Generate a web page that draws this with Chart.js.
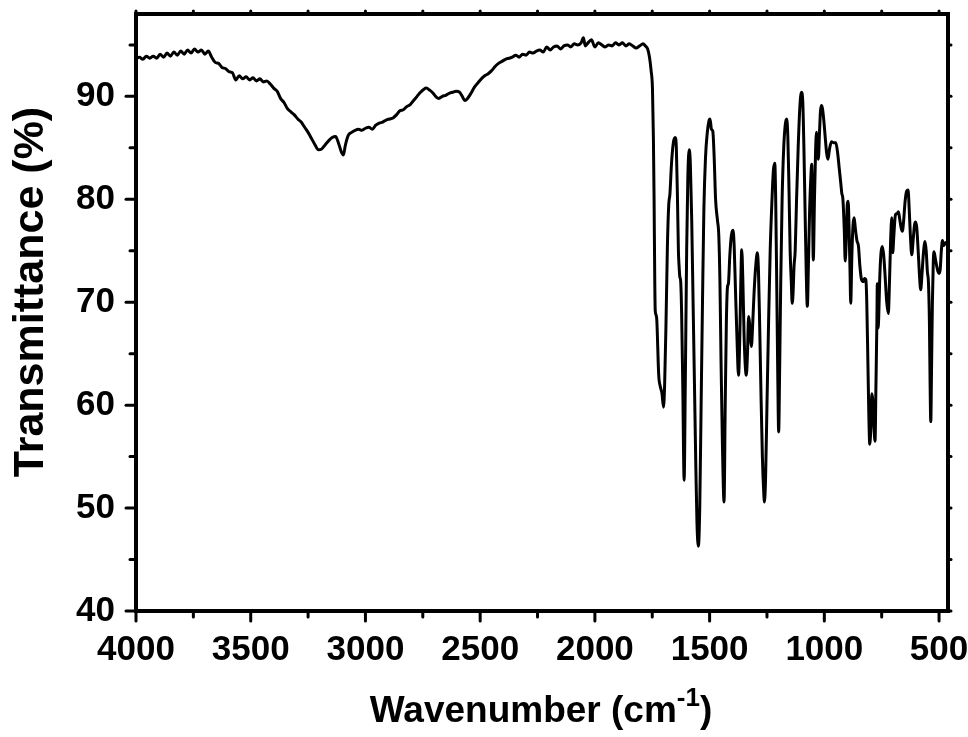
<!DOCTYPE html>
<html>
<head>
<meta charset="utf-8">
<script src="https://cdn.jsdelivr.net/npm/chart.js@4.4.1/dist/chart.umd.min.js"></script>
<style>
  html, body { margin: 0; padding: 0; background: #fff; }
  #wrap { width: 968px; height: 737px; }
</style>
</head>
<body>
<div id="wrap"><canvas id="irChart" width="968" height="737"></canvas></div>
<script>
// FTIR spectrum
const wavenumbers = [
  4000, 3985, 3970, 3955, 3940, 3925, 3910, 3895, 3880, 3865,
  3850, 3835, 3820, 3805, 3790, 3775, 3760, 3745, 3730, 3715,
  3700, 3685, 3670, 3655, 3640, 3625, 3610, 3595, 3580, 3565,
  3550, 3535, 3520, 3505, 3490, 3475, 3460, 3445, 3430, 3415,
  3400, 3385, 3370, 3355, 3340, 3325, 3310, 3295, 3280, 3265,
  3250, 3235, 3220, 3205, 3190, 3175, 3160, 3145, 3130, 3118,
  3105, 3096, 3088, 3075, 3060, 3045, 3030, 3015, 3000, 2985,
  2970, 2955, 2940, 2925, 2910, 2895, 2880, 2865, 2850, 2835,
  2820, 2805, 2790, 2775, 2760, 2745, 2735, 2720, 2705, 2690,
  2680, 2665, 2650, 2635, 2620, 2605, 2590, 2578, 2567, 2555,
  2540, 2525, 2510, 2495, 2480, 2465, 2450, 2435, 2420, 2405,
  2390, 2375, 2360, 2345, 2330, 2315, 2300, 2285, 2270, 2255,
  2240, 2225, 2210, 2195, 2180, 2165, 2150, 2135, 2120, 2105,
  2090, 2075, 2060, 2050, 2042, 2030, 2015, 2000, 1985, 1970,
  1955, 1940, 1925, 1910, 1895, 1880, 1865, 1850, 1835, 1820,
  1805, 1790, 1780, 1770, 1762, 1755, 1749, 1745, 1742, 1739,
  1737, 1734, 1730, 1722, 1715, 1708, 1701, 1696, 1690, 1684,
  1678, 1673, 1666, 1658, 1650, 1645, 1640, 1636, 1633, 1630,
  1626, 1622, 1617, 1611, 1606, 1600, 1595, 1589, 1584, 1578,
  1572, 1566, 1560, 1555, 1549, 1543, 1537, 1531, 1525, 1518,
  1510, 1503, 1498, 1492, 1486, 1480, 1474, 1466, 1460, 1455,
  1450, 1444, 1437, 1432, 1427, 1422, 1418, 1412, 1405, 1398,
  1393, 1387, 1380, 1374, 1369, 1364, 1360, 1355, 1350, 1345,
  1340, 1335, 1330, 1326, 1322, 1318, 1312, 1306, 1299, 1292,
  1287, 1282, 1276, 1270, 1264, 1261, 1256, 1250, 1243, 1236,
  1228, 1222, 1216, 1212, 1207, 1203, 1199, 1195, 1190, 1184,
  1177, 1170, 1164, 1159, 1154, 1149, 1144, 1140, 1136, 1132,
  1127, 1121, 1114, 1107, 1100, 1094, 1089, 1084, 1079, 1074,
  1069, 1064, 1058, 1055, 1052, 1048, 1043, 1038, 1034, 1030,
  1026, 1021, 1017, 1013, 1008, 1002, 996, 990, 984, 978,
  969, 960, 950, 942, 935, 928, 924, 919, 913, 909,
  904, 900, 896, 892, 888, 885, 880, 875, 870, 865,
  858, 851, 845, 838, 830, 825, 819, 815, 810, 806,
  802, 797, 793, 789, 784, 779, 775, 771, 769, 766,
  763, 759, 753, 747, 741, 735, 728, 721, 716, 711,
  706, 702, 697, 690, 683, 677, 671, 665, 660, 654,
  648, 641, 635, 630, 625, 619, 613, 607, 602, 597,
  591, 585, 580, 575, 568, 561, 556, 551, 546, 542,
  539, 536, 533, 529, 525, 522, 516, 510, 505, 500,
  495, 490, 485, 480, 470, 461
];
const transmittance = [
  93.7, 93.8, 93.6, 93.9, 93.7, 93.9, 93.7, 94.1, 93.8, 94.2,
  93.9, 94.3, 94.0, 94.4, 94.1, 94.5, 94.2, 94.6, 94.3, 94.5,
  94.1, 94.4, 93.8, 93.3, 93.2, 92.8, 92.7, 92.4, 92.3, 91.6,
  92.0, 91.7, 91.9, 91.6, 91.8, 91.5, 91.7, 91.4, 91.5, 91.2,
  90.8, 90.5, 89.8, 89.4, 88.8, 88.5, 88.2, 87.8, 87.5, 87.0,
  86.5, 85.9, 85.3, 84.8, 84.9, 85.3, 85.7, 86.0, 86.1, 85.5,
  84.6, 84.3, 85.2, 86.2, 86.5, 86.7, 86.8, 86.7, 86.9, 87.0,
  86.8, 87.2, 87.4, 87.5, 87.7, 87.8, 87.9, 88.2, 88.6, 88.7,
  89.0, 89.2, 89.6, 90.0, 90.4, 90.7, 90.8, 90.6, 90.3, 89.9,
  89.8, 90.0, 90.1, 90.3, 90.4, 90.5, 90.4, 90.0, 89.6, 89.8,
  90.3, 90.9, 91.3, 91.7, 92.0, 92.2, 92.5, 92.9, 93.2, 93.4,
  93.6, 93.7, 93.8, 94.0, 93.8, 94.1, 94.0, 94.3, 94.2, 94.4,
  94.5, 94.3, 94.8, 94.5, 94.8, 94.9, 94.6, 94.9, 95.0, 94.8,
  95.1, 95.0, 95.2, 95.7, 94.9, 95.2, 95.5, 94.8, 95.2, 95.0,
  94.8, 95.0, 94.9, 95.2, 95.0, 95.2, 94.9, 95.1, 94.9, 94.7,
  94.9, 95.1, 94.9, 94.6, 93.8, 92.5, 90.7, 86.0, 80.0, 72.0,
  69.2, 68.8, 68.2, 63.0, 61.8, 61.2, 59.8, 62.0, 68.0, 75.4,
  79.5, 80.5, 83.5, 85.5, 86.0, 85.0, 80.0, 75.0, 73.5, 72.5,
  72.0, 69.0, 62.0, 52.7, 62.0, 75.0, 82.0, 84.8, 83.5, 78.0,
  70.0, 62.0, 54.0, 48.5, 46.3, 50.0, 60.0, 70.0, 79.0, 84.0,
  86.5, 87.6, 87.8, 86.8, 86.6, 84.0, 80.0, 78.0, 76.5, 72.0,
  64.0, 56.0, 50.6, 60.0, 68.0, 71.5, 71.8, 74.5, 76.5, 77.0,
  75.5, 71.0, 66.0, 62.9, 66.0, 72.0, 75.1, 72.0, 67.0, 64.0,
  62.9, 65.0, 68.6, 68.0, 66.5, 65.7, 68.0, 71.0, 73.5, 74.8,
  73.0, 68.0, 61.0, 55.0, 51.5, 50.6, 53.0, 60.0, 68.0, 75.0,
  80.0, 82.8, 83.5, 80.0, 71.0, 63.0, 57.4, 63.0, 72.0, 80.0,
  85.0, 87.3, 87.8, 86.0, 81.0, 75.0, 72.0, 69.9, 71.0, 73.5,
  75.0, 80.0, 85.0, 88.8, 90.4, 89.5, 85.0, 79.0, 73.0, 69.6,
  74.0, 79.0, 82.5, 83.4, 80.0, 74.1, 80.0, 84.8, 86.5, 85.5,
  83.9, 86.5, 88.5, 89.1, 88.8, 87.6, 86.0, 84.5, 83.9, 84.8,
  85.6, 85.5, 85.5, 84.5, 83.0, 81.5, 80.6, 80.0, 77.0, 74.0,
  76.5, 79.5, 79.8, 77.0, 73.0, 69.9, 74.5, 77.5, 78.2, 77.2,
  76.0, 75.4, 73.5, 72.2, 72.0, 72.3, 72.2, 70.0, 64.0, 59.0,
  56.2, 58.0, 61.1, 60.5, 58.0, 56.5, 62.0, 68.0, 71.8, 67.5,
  68.5, 72.0, 74.8, 75.4, 74.5, 72.5, 70.0, 68.9, 72.0, 76.0,
  78.2, 74.8, 76.5, 78.5, 78.6, 78.8, 78.0, 77.2, 76.9, 78.0,
  79.8, 80.8, 80.9, 79.0, 76.5, 74.6, 76.0, 77.5, 77.8, 77.2,
  75.0, 72.5, 71.2, 72.5, 74.8, 75.9, 75.0, 73.0, 71.8, 68.0,
  62.0, 58.4, 63.0, 70.0, 74.0, 74.9, 74.2, 73.5, 73.0, 72.8,
  73.2, 75.0, 76.0, 75.5, 75.8, 75.7
];

const xTickValues = [4000, 3500, 3000, 2500, 2000, 1500, 1000, 500];
const xMinorValues = [3750, 3250, 2750, 2250, 1750, 1250, 750];
const yTickValues = [40, 50, 60, 70, 80, 90];
const yMinorValues = [45, 55, 65, 75, 85, 95];

const xTitleMain = 'Wavenumber (cm';
const xTitleSup = '-1';
const xTitleEnd = ')';
const yTitle = 'Transmittance (%)';

const FONT = 'Arial, "Liberation Sans", sans-serif';

// frame, tick marks and axis titles drawn on top of the chart
const frameAndTicks = {
  id: 'frameAndTicks',
  afterDraw(chart) {
    const ctx = chart.ctx;
    const area = chart.chartArea;
    const xs = chart.scales.x;
    const ys = chart.scales.y;

    ctx.save();
    ctx.strokeStyle = '#000';
    ctx.lineWidth = 4;
    ctx.lineCap = 'butt';
    ctx.strokeRect(area.left, area.top, area.right - area.left, area.bottom - area.top);

    ctx.lineWidth = 3;
    ctx.lineCap = 'round';
    const tick = (x1, y1, x2, y2) => {
      ctx.beginPath();
      ctx.moveTo(x1, y1);
      ctx.lineTo(x2, y2);
      ctx.stroke();
    };
    xTickValues.forEach(v => {
      const px = xs.getPixelForValue(v);
      tick(px, area.bottom, px, area.bottom + 10);
      tick(px, area.top, px, area.top - 3);
    });
    xMinorValues.forEach(v => {
      const px = xs.getPixelForValue(v);
      tick(px, area.bottom, px, area.bottom + 6);
      tick(px, area.top, px, area.top - 3);
    });
    yTickValues.forEach(v => {
      const py = ys.getPixelForValue(v);
      tick(area.left, py, area.left - 10, py);
      tick(area.right, py, area.right + 3, py);
    });
    yMinorValues.forEach(v => {
      const py = ys.getPixelForValue(v);
      tick(area.left, py, area.left - 6, py);
      tick(area.right, py, area.right + 3, py);
    });

    // y title
    ctx.fillStyle = '#000';
    ctx.save();
    ctx.translate(31, 292);
    ctx.rotate(-Math.PI / 2);
    ctx.textAlign = 'center';
    ctx.textBaseline = 'middle';
    ctx.font = 'bold 43px ' + FONT;
    ctx.fillText(yTitle, 0, 0);
    ctx.restore();

    // x title with superscript
    const mainFont = 'bold 37px ' + FONT;
    const supFont = 'bold 26px ' + FONT;
    ctx.textBaseline = 'alphabetic';
    ctx.textAlign = 'left';
    ctx.font = mainFont;
    const wMain = ctx.measureText(xTitleMain).width;
    const wEnd = ctx.measureText(xTitleEnd).width;
    ctx.font = supFont;
    const wSup = ctx.measureText(xTitleSup).width;
    const x0 = 541 - (wMain + wSup + wEnd) / 2;
    const base = 722;
    ctx.font = mainFont;
    ctx.fillText(xTitleMain, x0, base);
    ctx.font = supFont;
    ctx.fillText(xTitleSup, x0 + wMain, base - 16);
    ctx.font = mainFont;
    ctx.fillText(xTitleEnd, x0 + wMain + wSup, base);
    ctx.restore();
  }
};

const points = wavenumbers.map((w, i) => ({ x: w, y: transmittance[i] }));

new Chart(document.getElementById('irChart'), {
  type: 'line',
  data: {
    datasets: [{
      data: points,
      borderColor: '#000',
      borderWidth: 3,
      pointRadius: 0,
      fill: false,
      cubicInterpolationMode: 'monotone'
    }]
  },
  options: {
    responsive: false,
    animation: false,
    devicePixelRatio: 1,
    layout: { padding: { top: 14, right: 20, left: 0, bottom: 0 } },
    plugins: {
      legend: { display: false },
      tooltip: { enabled: false }
    },
    scales: {
      x: {
        type: 'linear',
        reverse: true,
        min: 461,
        max: 4000,
        grid: { display: false },
        border: { display: false },
        afterBuildTicks: scale => {
          scale.ticks = xTickValues.map(v => ({ value: v }));
        },
        afterFit: scale => {
          scale.height = 126;
          scale.paddingLeft = 0;
          scale.paddingRight = 0;
        },
        ticks: {
          color: '#000',
          padding: 10,
          maxRotation: 0,
          autoSkip: false,
          font: { family: FONT, size: 35, weight: 'bold' },
          callback: v => String(v)
        }
      },
      y: {
        min: 40,
        max: 98,
        grid: { display: false },
        border: { display: false },
        afterBuildTicks: scale => {
          scale.ticks = yTickValues.map(v => ({ value: v }));
        },
        afterFit: scale => {
          scale.width = 136;
          scale.paddingTop = 0;
          scale.paddingBottom = 0;
        },
        ticks: {
          color: '#000',
          padding: 13,
          font: { family: FONT, size: 35, weight: 'bold' },
          callback: v => String(v)
        }
      }
    }
  },
  plugins: [frameAndTicks]
});
</script>
</body>
</html>
